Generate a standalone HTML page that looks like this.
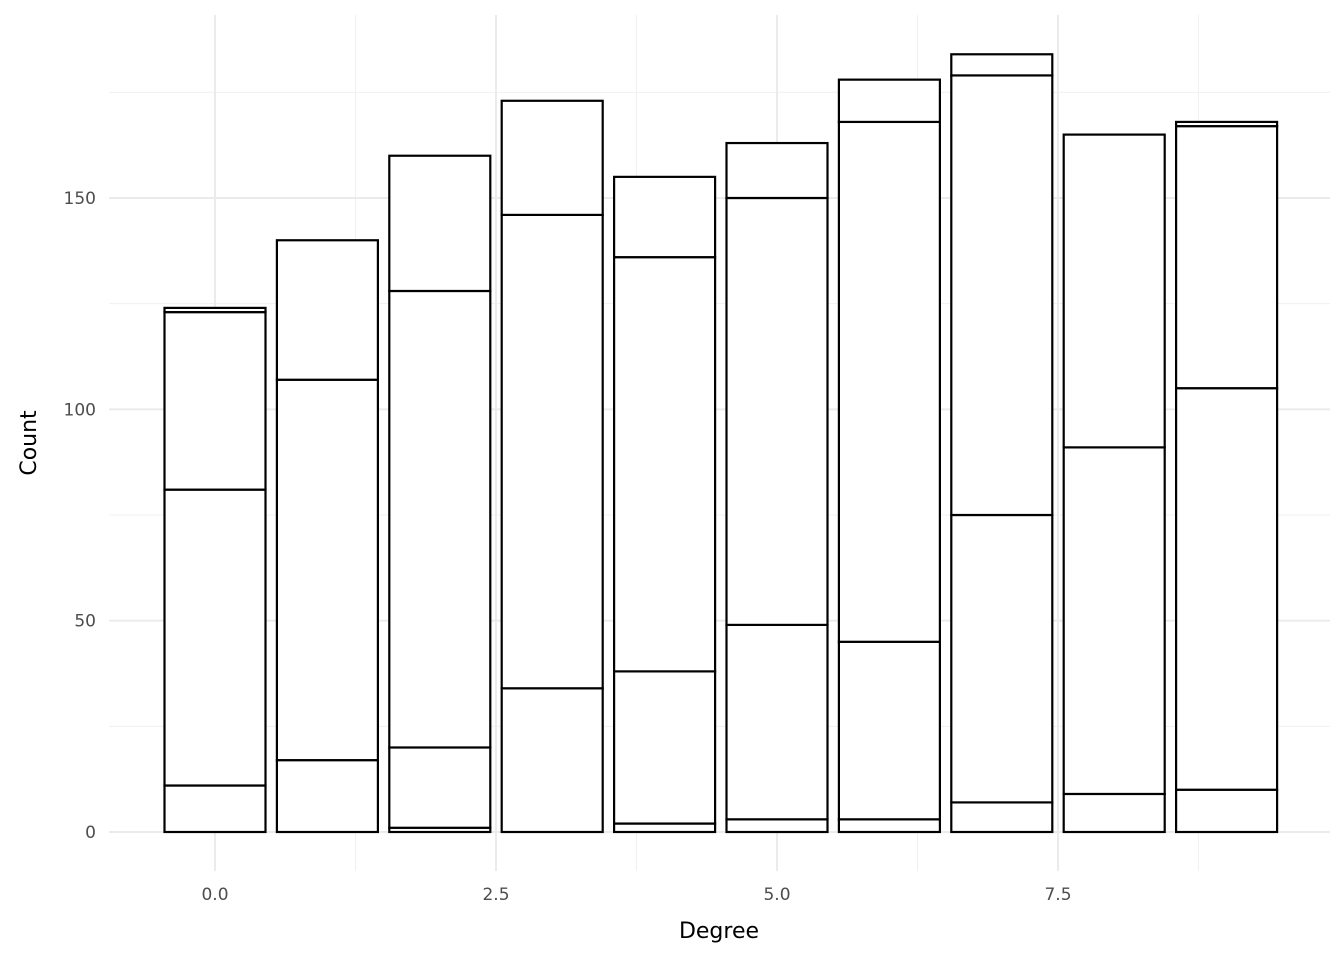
<!DOCTYPE html>
<html><head><meta charset="utf-8"><style>
body{margin:0;background:#fff}
svg text{font-family:"DejaVu Sans","Liberation Sans",sans-serif}
</style></head><body>
<svg id="chart" width="1344" height="960">
<g id="grid"></g>
<g id="bars"></g>
<g id="axes"></g>
<text x="719" y="938" font-size="22" text-anchor="middle" fill="#000">Degree</text>
<text transform="translate(36,443) rotate(-90)" font-size="22" text-anchor="middle" fill="#000">Count</text>
</svg>
<script>
const categories=[0,1,2,3,4,5,6,7,8,9];
const series1=[11,17,1,0,2,3,3,7,9,10];
const series2=[70,90,19,34,36,46,42,68,82,95];
const series3=[42,33,108,112,98,101,123,104,74,62];
const series4=[1,0,32,27,19,13,10,5,0,1];
const yTicks=[0,50,100,150];
const yMinor=[25,75,125,175];
const xTicks=[0,2.5,5,7.5];
const xTickLabels=["0.0","2.5","5.0","7.5"];
const xMinor=[1.25,3.75,6.25,8.75];
const NS="http://www.w3.org/2000/svg";
const X0=109,X1=1330,Y0=15,Y1=871;
function xs(v){return 215+v*112.4;}
function ys(v){return 832-v*4.2267;}
function mk(tag,attrs,parent){const e=document.createElementNS(NS,tag);for(const k in attrs)e.setAttribute(k,attrs[k]);parent.appendChild(e);return e;}
const grid=document.getElementById('grid'),bars=document.getElementById('bars'),axes=document.getElementById('axes');
yMinor.forEach(v=>{const l=mk('line',{x1:X0,x2:X1,y1:ys(v),y2:ys(v),stroke:'#f0f0f0','stroke-width':1},grid);

});
xMinor.forEach(v=>{const l=mk('line',{x1:xs(v),x2:xs(v),y1:Y0,y2:Y1,stroke:'#f0f0f0','stroke-width':1},grid);

});
yTicks.forEach(v=>{const l=mk('line',{x1:X0,x2:X1,y1:ys(v),y2:ys(v),stroke:'#ebebeb','stroke-width':2},grid);


const t=mk('text',{x:96,y:ys(v)+6,'font-size':17,'text-anchor':'end',fill:'#4d4d4d'},axes);t.textContent=v;

});
xTicks.forEach((v,i)=>{const l=mk('line',{x1:xs(v),x2:xs(v),y1:Y0,y2:Y1,stroke:'#ebebeb','stroke-width':2},grid);


const t=mk('text',{x:xs(v),y:900,'font-size':17,'text-anchor':'middle',fill:'#4d4d4d'},axes);t.textContent=xTickLabels[i];

});
const allSeries=[series1,series2,series3,series4];
categories.forEach((c,i)=>{let base=0;
allSeries.forEach((s,si)=>{const v=s[i];if(v<=0)return;
const r=mk('rect',{x:xs(c)-50.5,width:101,y:ys(base+v),height:ys(base)-ys(base+v),fill:'#fff',stroke:'#000','stroke-width':2.2},bars);


base+=v;});});
</script>
</body></html>
